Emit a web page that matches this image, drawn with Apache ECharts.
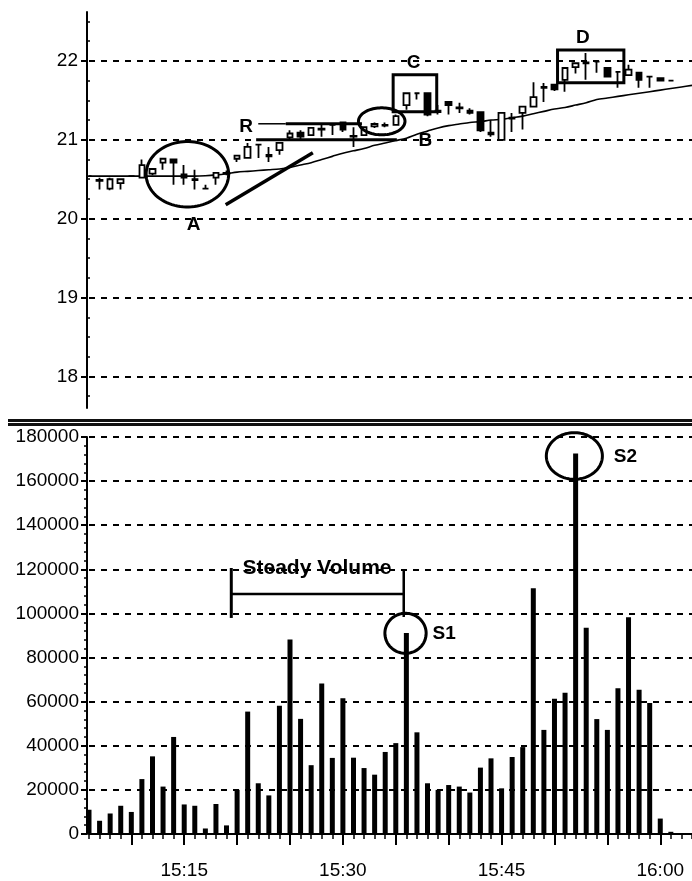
<!DOCTYPE html>
<html><head><meta charset="utf-8">
<script src="https://cdn.jsdelivr.net/npm/echarts@6/dist/echarts.min.js"></script>
<style>html,body{margin:0;padding:0;background:#fff}#c{width:692px;height:881px}</style>
</head><body><div id="c"></div><script>
// ---- data ----
const times = ['15:06','15:07','15:08','15:09','15:10','15:11','15:12','15:13','15:14','15:15',
 '15:16','15:17','15:18','15:19','15:20','15:21','15:22','15:23','15:24','15:25',
 '15:26','15:27','15:28','15:29','15:30','15:31','15:32','15:33','15:34','15:35',
 '15:36','15:37','15:38','15:39','15:40','15:41','15:42','15:43','15:44','15:45',
 '15:46','15:47','15:48','15:49','15:50','15:51','15:52','15:53','15:54','15:55',
 '15:56','15:57','15:58','15:59','16:00','16:01','16:02','16:03'];
// [open, close, low, high]
const candles = [
 [20.54,20.54,20.53,20.55],[20.48,20.49,20.37,20.52],[20.38,20.50,20.36,20.52],[20.45,20.50,20.37,20.51],
 [20.54,20.54,20.53,20.55],[20.52,20.68,20.51,20.75],[20.57,20.63,20.55,20.64],[20.71,20.76,20.62,20.77],
 [20.75,20.71,20.43,20.76],[20.56,20.52,20.43,20.68],[20.50,20.49,20.37,20.62],[20.38,20.38,20.37,20.43],
 [20.52,20.58,20.43,20.59],[20.57,20.58,20.55,20.61],[20.76,20.80,20.72,20.81],[20.77,20.91,20.76,20.96],
 [20.94,20.94,20.77,20.94],[20.81,20.79,20.72,20.91],[20.87,20.96,20.81,20.97],[21.03,21.08,21.00,21.12],
 [21.09,21.04,21.00,21.12],[21.06,21.15,21.05,21.16],[21.14,21.13,21.04,21.19],[21.19,21.19,21.06,21.19],
 [21.22,21.13,21.10,21.23],[21.05,21.04,20.91,21.16],[21.06,21.16,21.05,21.17],[21.17,21.20,21.15,21.22],
 [21.19,21.18,21.16,21.22],[21.19,21.30,21.18,21.32],[21.44,21.59,21.38,21.60],[21.59,21.59,21.51,21.59],
 [21.59,21.32,21.30,21.60],[21.37,21.35,21.32,21.44],[21.48,21.44,21.32,21.49],[21.41,21.40,21.34,21.47],
 [21.37,21.34,21.32,21.40],[21.35,21.12,21.10,21.36],[21.09,21.07,21.04,21.25],[21.00,21.34,21.00,21.35],
 [21.28,21.27,21.10,21.34],[21.34,21.42,21.13,21.43],[21.42,21.54,21.41,21.73],[21.67,21.66,21.48,21.72],
 [21.70,21.64,21.62,21.71],[21.76,21.91,21.61,21.92],[21.92,21.97,21.84,21.98],[21.98,21.97,21.76,22.10],
 [21.99,21.99,21.85,21.99],[21.91,21.80,21.79,21.92],[21.86,21.86,21.66,21.86],[21.82,21.89,21.81,21.95],
 [21.85,21.76,21.66,21.86],[21.80,21.80,21.66,21.80],[21.78,21.75,21.74,21.79],[21.75,21.75,21.75,21.75]
];
const movingAvg = [20.54,20.54,20.54,20.54,20.54,20.54,20.54,20.54,20.54,20.54,
 20.54,20.545,20.555,20.57,20.59,20.60,20.61,20.62,20.63,20.65,
 20.68,20.71,20.75,20.79,20.83,20.86,20.89,20.93,20.96,20.99,
 21.02,21.07,21.11,21.15,21.18,21.20,21.22,21.23,21.25,21.26,
 21.28,21.30,21.33,21.36,21.39,21.41,21.44,21.47,21.51,21.53,
 21.55,21.57,21.59,21.61,21.63,21.65,21.67,21.69];
const volume = [11000,6000,9300,12800,10000,24900,35200,21500,44000,13400,
 12800,2500,13600,3900,20000,55500,23000,17500,58100,88200,
 52200,31200,68200,34500,61500,34600,29900,26900,37200,41200,
 91100,46100,23000,20000,22200,21500,18800,30100,34300,20700,
 34900,39400,111400,47200,61300,64000,172500,93500,52100,47200,
 66100,98300,65400,59400,7000,1000];
const priceTicks = [18,19,20,21,22];
const priceMinorTicks = [17.75,18.25,18.5,18.75,19.25,19.5,19.75,20.25,20.5,20.75,21.25,21.5,21.75,22.25,22.5];
const volumeTicks = [0,20000,40000,60000,80000,100000,120000,140000,160000,180000];
const timeLabels = ['15:15','15:30','15:45','16:00'];

// annotations (in data coordinates: x = minute index, y = price / volume)
const upperNotes = [
 {kind:'ellipse', cx:9.3, cy:20.563, rx:3.9, ry:0.415},
 {kind:'ellipse', cx:27.67, cy:21.234, rx:2.2, ry:0.171},
 {kind:'line', pts:[[12.92,20.177],[21.16,20.835]], w:3.5},
 {kind:'line', pts:[[16.0,21.203],[18.6,21.203]], w:1.5},
 {kind:'line', pts:[[18.6,21.203],[25.8,21.203]], w:3},
 {kind:'line', pts:[[15.8,21.0],[29.1,21.0]], w:3},
 {kind:'rect', x0:28.75, x1:32.87, y0:21.354, y1:21.823},
 {kind:'rect', x0:44.29, x1:50.56, y0:21.722, y1:22.139},
 {kind:'text', x:9.88, y:19.92, text:'A'},
 {kind:'text', x:14.84, y:21.165, text:'R'},
 {kind:'text', x:31.79, y:20.994, text:'B'},
 {kind:'text', x:30.68, y:21.98, text:'C'},
 {kind:'text', x:46.68, y:22.29, text:'D'}
];
const lowerNotes = [
 {kind:'ellipse', cx:29.92, cy:91000, rx:1.95, ry:9070},
 {kind:'ellipse', cx:45.88, cy:171400, rx:2.65, ry:10570},
 {kind:'line', pts:[[13.45,97960],[13.45,120600]], w:3},
 {kind:'line', pts:[[13.45,108800],[29.75,108800]], w:2.5},
 {kind:'line', pts:[[29.75,98400],[29.75,119700]], w:2.5},
 {kind:'text', x:14.51, y:120600, text:'Steady Volume', align:'left', size:21},
 {kind:'text', x:33.57, y:90700, text:'S1'},
 {kind:'text', x:50.7, y:171000, text:'S2'}
];

const FONT = '"Liberation Sans", Arial, Helvetica, sans-serif';

function pt(api, xi, y) {
  const i0 = Math.floor(xi);
  const a = api.coord([i0, y]);
  const b = api.coord([i0 + 1, y]);
  return [a[0] + (xi - i0) * (b[0] - a[0]), a[1]];
}
function makeRender(notes) {
  return function (params, api) {
    const s = notes[params.dataIndex];
    const stroke = {stroke:'#000', fill:'none', lineWidth: s.w || 3};
    if (s.kind === 'ellipse') {
      const c = pt(api, s.cx, s.cy);
      const ex = pt(api, s.cx + s.rx, s.cy)[0] - c[0];
      const ey = c[1] - pt(api, s.cx, s.cy + s.ry)[1];
      const points = [];
      for (let k = 0; k < 90; k++) {
        const t = k / 90 * 2 * Math.PI;
        points.push([c[0] + ex * Math.cos(t), c[1] + ey * Math.sin(t)]);
      }
      return {type:'polygon', shape:{points}, style:stroke, silent:true};
    }
    if (s.kind === 'line') {
      return {type:'polyline', shape:{points:s.pts.map(p => pt(api, p[0], p[1]))}, style:stroke, silent:true};
    }
    if (s.kind === 'rect') {
      const p0 = pt(api, s.x0, s.y1), p1 = pt(api, s.x1, s.y0);
      return {type:'rect', shape:{x:p0[0], y:p0[1], width:p1[0]-p0[0], height:p1[1]-p0[1]}, style:stroke, silent:true};
    }
    const p = pt(api, s.x, s.y);
    const al = s.align || 'center';
    return {type:'text', silent:true, style:{text:s.text, x:p[0], y:p[1], fill:'#000',
      font:'bold ' + (s.size || 19) + 'px ' + FONT, textAlign:al, align:al, textVerticalAlign:'middle', verticalAlign:'middle'}};
  };
}

const chart = echarts.init(document.getElementById('c'), null, {renderer:'canvas'});
const axisLineStyle = {color:'#000', width:2};
const dash = {color:'#000', width:2, type:[6,6]};
const minuteOf = v => parseInt(v.split(':')[1], 10);

chart.setOption({
  backgroundColor:'#fff',
  animation:false,
  graphic:[
    {type:'rect', left:8, top:419, shape:{width:684, height:3}, style:{fill:'#111'}},
    {type:'rect', left:8, top:423, shape:{width:684, height:3}, style:{fill:'#111'}}
  ],
  grid:[
    {left:89, right:-6, top:12, height:396},
    {left:89, right:-6, top:437, height:397}
  ],
  xAxis:[
    {type:'category', gridIndex:0, data:times, boundaryGap:false, show:false},
    {type:'category', gridIndex:1, data:times, boundaryGap:false, position:'bottom',
     axisLine:{lineStyle:axisLineStyle},
     axisTick:{interval:(i, v) => minuteOf(v) % 5 === 0, length:11, lineStyle:{color:'#000', width:2}},
     axisLabel:{interval:(i, v) => timeLabels.indexOf(v) >= 0, color:'#000', fontSize:19, fontFamily:FONT, margin:27},
     splitLine:{show:false}},
    {type:'category', gridIndex:1, data:times, boundaryGap:false, position:'bottom',
     axisLine:{show:false}, axisLabel:{show:false},
     axisTick:{interval:0, length:5, lineStyle:{color:'#000', width:1.5}}, splitLine:{show:false}}
  ],
  yAxis:[
    {type:'value', gridIndex:0, min:17.6, max:22.62, offset:2, position:'left',
     axisLine:{show:true, lineStyle:axisLineStyle},
     axisTick:{show:true, customValues:priceTicks, length:6, lineStyle:{color:'#000', width:2}},
     axisLabel:{customValues:priceTicks, color:'#000', fontSize:19, fontFamily:FONT, margin:9},
     splitLine:{show:true, lineStyle:dash}},
    {type:'value', gridIndex:0, min:17.6, max:22.62, offset:2, position:'left',
     axisLine:{show:false}, axisLabel:{show:false}, splitLine:{show:false},
     axisTick:{show:true, inside:true, customValues:priceMinorTicks, length:3, lineStyle:{color:'#000', width:1.5}}},
    {type:'value', gridIndex:1, min:0, max:180000, interval:20000, offset:2, position:'left',
     axisLine:{show:true, lineStyle:axisLineStyle},
     axisTick:{show:true, length:6, lineStyle:{color:'#000', width:2}},
     minorTick:{show:true, splitNumber:5, length:3, lineStyle:{color:'#000', width:1.5}},
     axisLabel:{color:'#000', fontSize:19, fontFamily:FONT, margin:8, formatter:v => String(v)},
     splitLine:{show:true, lineStyle:dash}}
  ],
  series:[
    {type:'line', xAxisIndex:0, yAxisIndex:0, data:movingAvg, showSymbol:false, smooth:0.3,
     lineStyle:{color:'#000', width:1.6}, z:2, silent:true},
    {type:'candlestick', xAxisIndex:0, yAxisIndex:0, data:candles, barWidth:6, z:3,
     itemStyle:{color:'#fff', color0:'#000', borderColor:'#000', borderColor0:'#000', borderWidth:1.8}},
    {type:'bar', xAxisIndex:1, yAxisIndex:2, data:volume, barWidth:5, itemStyle:{color:'#000'}, z:2},
    {type:'custom', xAxisIndex:0, yAxisIndex:0, z:5, renderItem:makeRender(upperNotes),
     data:upperNotes.map(() => [0, 20])},
    {type:'custom', xAxisIndex:1, yAxisIndex:2, z:5, renderItem:makeRender(lowerNotes),
     data:lowerNotes.map(() => [0, 0])}
  ]
});
</script></body></html>
